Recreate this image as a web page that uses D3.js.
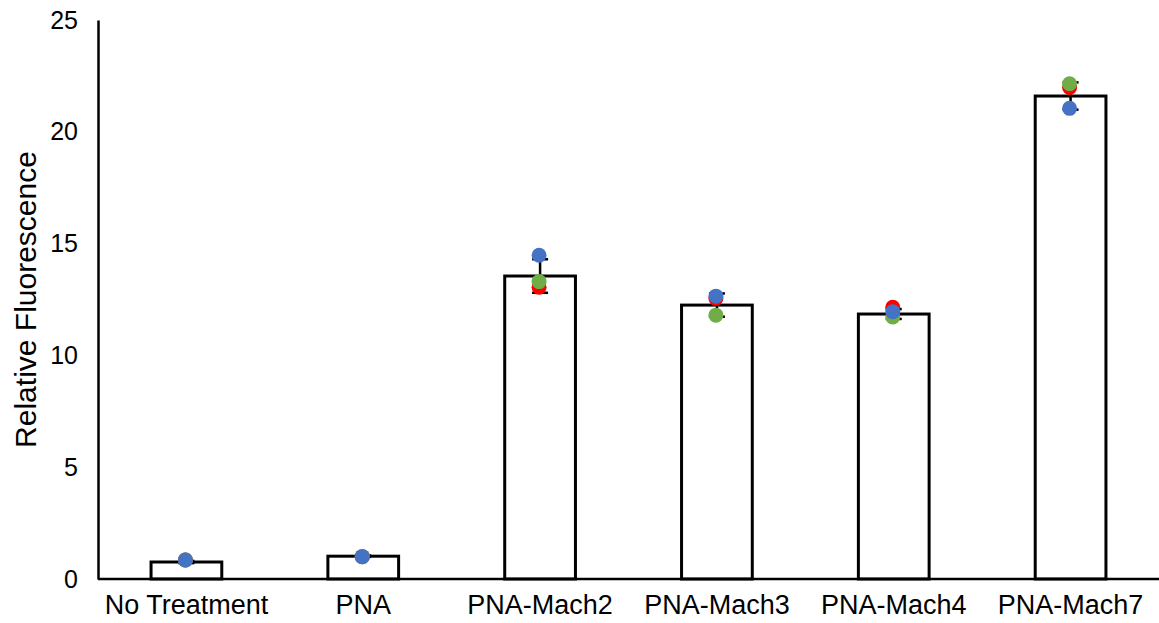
<!DOCTYPE html>
<html><head><meta charset="utf-8">
<script src="https://cdn.jsdelivr.net/npm/d3@7"></script>
<style>body{margin:0;background:#fff;} text{font-family:"Liberation Sans",Arial,Helvetica,sans-serif;}</style>
</head><body><svg id="chart" width="1159" height="623"></svg>
<script>
const categories = ["No Treatment","PNA","PNA-Mach2","PNA-Mach3","PNA-Mach4","PNA-Mach7"];
const means = [0.76, 1.02, 13.55, 12.25, 11.85, 21.6];
const errors = [0.05, 0.03, 0.75, 0.52, 0.22, 0.61];
const repRed = [0.85, 1.0, 13.05, 12.55, 12.15, 21.98];
const repGreen = [0.85, 1.0, 13.3, 11.8, 11.72, 22.15];
const repBlue = [0.85, 1.0, 14.48, 12.65, 11.95, 21.05];
const yTicks = [0, 5, 10, 15, 20, 25];
const yTitle = "Relative Fluorescence";

const svg = d3.select("#chart");
const mLeft = 98, mRight = 1159, mTop = 20, mBottom = 579;
const x = d3.scaleBand().domain(categories).range([mLeft, mRight]).paddingInner(0.6).paddingOuter(0.3);
const y = d3.scaleLinear().domain([0, 25]).range([mBottom, mTop]);

// bars
svg.append("g").selectAll("rect").data(categories).join("rect")
  .attr("x", d => x(d)).attr("width", x.bandwidth())
  .attr("y", (d,i) => y(means[i])).attr("height", (d,i) => y(0) - y(means[i]))
  .attr("fill", "#fff").attr("stroke", "#000").attr("stroke-width", 3);

// error bars
const eg = svg.append("g").attr("stroke", "#000").attr("stroke-width", 2.5);
categories.forEach((c,i) => {
  const cx = x(c) + x.bandwidth()/2;
  const y1 = y(means[i] + errors[i]), y2 = y(means[i] - errors[i]);
  eg.append("line").attr("x1", cx).attr("x2", cx).attr("y1", y1).attr("y2", y2);
  eg.append("line").attr("x1", cx-8).attr("x2", cx+8).attr("y1", y1).attr("y2", y1);
  eg.append("line").attr("x1", cx-8).attr("x2", cx+8).attr("y1", y2).attr("y2", y2);
});

// replicate dots
const series = [[repRed, "#FF0000"], [repGreen, "#70AD47"], [repBlue, "#4472C4"]];
series.forEach(([vals, col]) => {
  svg.append("g").selectAll("circle").data(categories).join("circle")
    .attr("cx", d => x(d) + x.bandwidth()/2 - 1)
    .attr("cy", (d,i) => y(vals[i]))
    .attr("r", 7.5).attr("fill", col);
});

// axes
const yAxis = svg.append("g").attr("transform", `translate(${mLeft},0)`)
  .call(d3.axisLeft(y).tickValues(yTicks).tickSize(0).tickPadding(20));
yAxis.select(".domain").attr("stroke", "#000").attr("stroke-width", 2.5);
yAxis.selectAll("text").attr("font-size", 25).attr("fill", "#000");

const xAxis = svg.append("g").attr("transform", `translate(0,${mBottom})`)
  .call(d3.axisBottom(x).tickSize(0).tickPadding(16));
xAxis.select(".domain").attr("d", `M${mLeft},0H${mRight}`).attr("stroke", "#000").attr("stroke-width", 2.5);
xAxis.selectAll("text").attr("font-size", 27).attr("fill", "#000");

svg.append("text").attr("transform", `translate(36,${(mTop+mBottom)/2 + 0}) rotate(-90)`)
  .attr("text-anchor", "middle").attr("font-size", 30).attr("fill", "#000").text(yTitle);
</script></body></html>
